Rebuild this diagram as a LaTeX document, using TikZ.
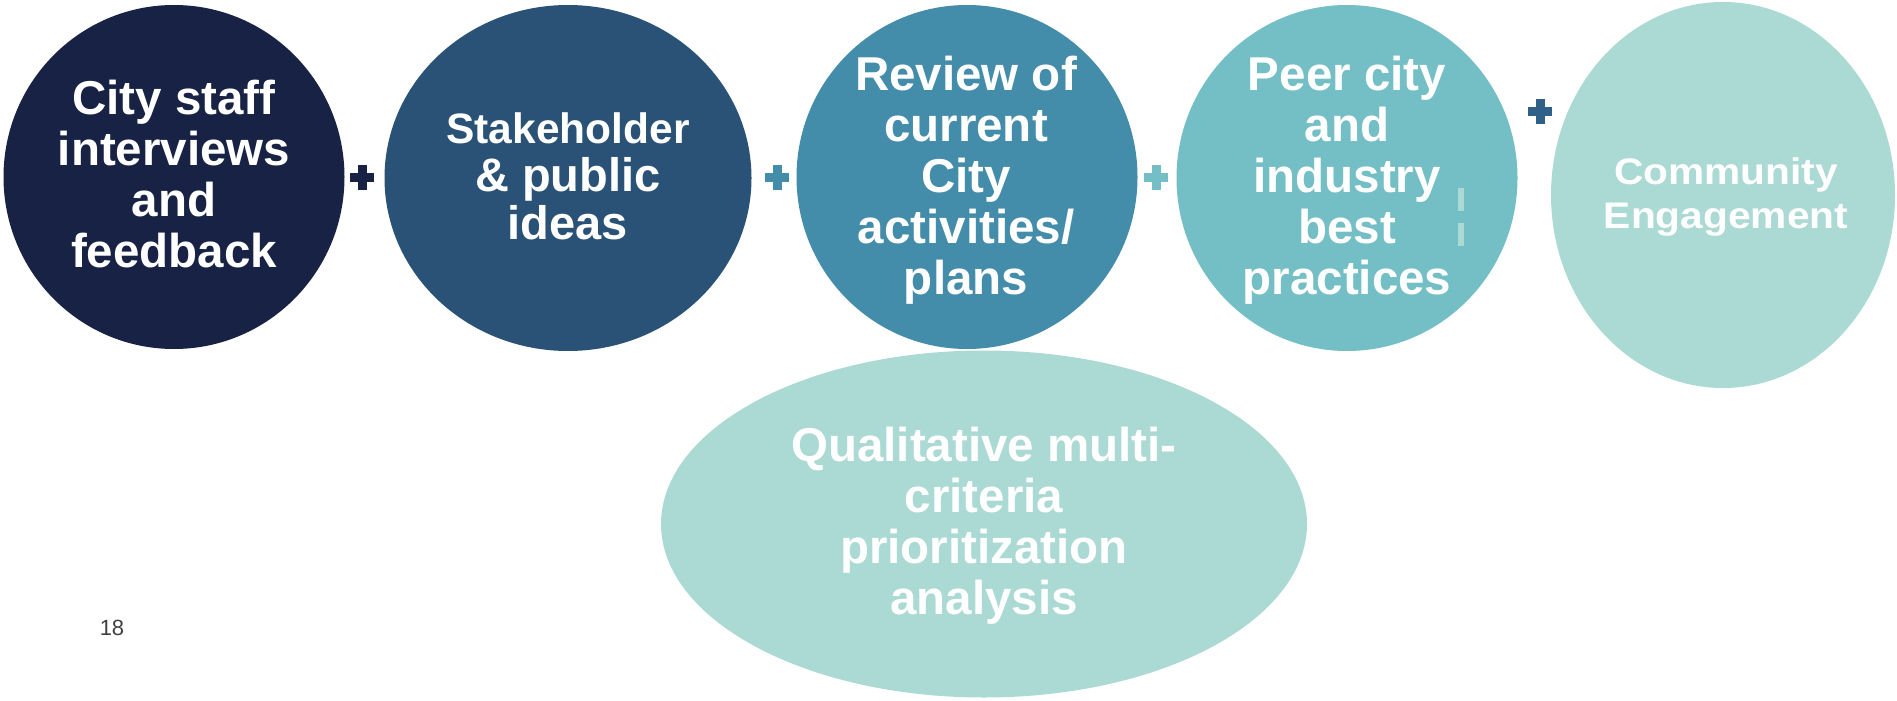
\documentclass[tikz,border=0pt]{standalone}
\usepackage{fontspec}
\setmainfont{Liberation Sans}
\usetikzlibrary{shapes.geometric}
\definecolor{cA}{HTML}{172244}
\definecolor{cB}{HTML}{2A5276}
\definecolor{cC}{HTML}{438CAA}
\definecolor{cD}{HTML}{74BFC5}
\definecolor{cE}{HTML}{ABD9D3}
\definecolor{cP}{HTML}{2E6088}
\definecolor{numgray}{HTML}{404040}
\tikzset{
  blob/.style={ellipse, inner sep=0pt, draw=none},
  lbl/.style={text=white, font=\bfseries\fontsize{47.5}{51}\selectfont, align=center, inner sep=0pt},
  plussign/.pic={\fill (-12,-4.5) rectangle (12,4.5); \fill (-4.5,-12.5) rectangle (4.5,12.5);}
}
\begin{document}
\begin{tikzpicture}[x=1pt,y=-1pt]
\useasboundingbox (0,0) rectangle (1897,701);
% ellipses
\node[blob, fill=cA, minimum width=341, minimum height=344] (e1) at (174,177) {};
\node[blob, fill=cB, minimum width=367, minimum height=346] (e2) at (568,178) {};
\node[blob, fill=cC, minimum width=341, minimum height=344] (e3) at (967,177) {};
\node[blob, fill=cD, minimum width=341, minimum height=346] (e4) at (1347,178) {};
\node[blob, fill=cE, minimum width=344, minimum height=386] (e5) at (1723,195) {};
\node[blob, fill=cE, minimum width=646, minimum height=347] (e6) at (984,524) {};
% labels
\node[lbl] (t1) at (174,174) {City staff\\interviews\\and\\feedback};
\node[lbl, font=\bfseries\fontsize{47}{48}\selectfont] (t2) at (568,176) {{\fontsize{42.5}{48}\selectfont Stakeholder}\\\& public\\ideas};
\node[lbl] (t3) at (966,180) {Review of\\current\\City\\activities/\\plans};
\node[lbl] (t4) at (1347,180) {Peer city\\and\\industry\\best\\practices};
\node[lbl, font=\bfseries\fontsize{37}{44}\selectfont] (t5) at (1726,197) {\scalebox{1.1}[1]{Community}\\\scalebox{1.1}[1]{Engagement}};
\node[lbl] (t6) at (984,526) {Qualitative multi-\\criteria\\prioritization\\analysis};
% plus signs
\pic[cA] at (362,177) {plussign};
\pic[cC] at (777,177) {plussign};
\pic[cD] at (1156,177) {plussign};
\pic[cP] at (1540,111) {plussign};
% dashes
\coordinate (d1) at (1461,188);
\coordinate (d2) at (1461,247);
\draw[cE, line width=6.5pt, dash pattern=on 23pt off 12pt] (d1) -- (d2);
% page number
\node[text=numgray, font=\fontsize{22}{24}\selectfont, inner sep=0pt] (pn) at (112,628) {18};
\end{tikzpicture}
\end{document}
